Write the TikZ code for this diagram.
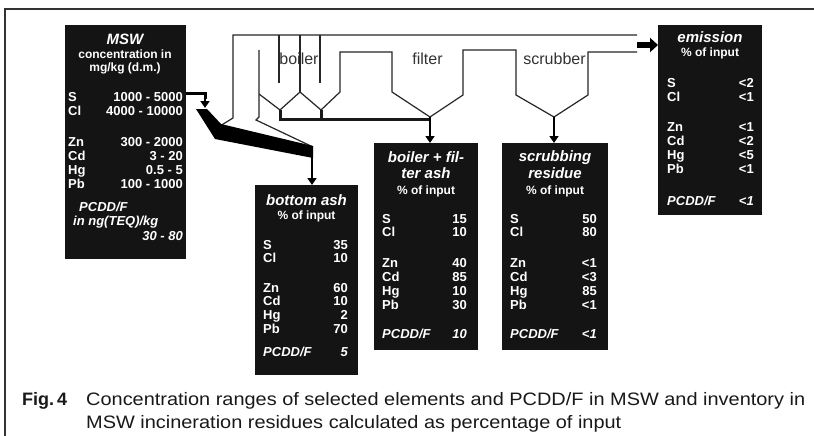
\documentclass[tikz,border=0pt]{standalone}
\usepackage{fontspec}
\setmainfont{Liberation Sans}
\usetikzlibrary{arrows.meta}
\newcommand\rowf{\fontsize{13}{14}\selectfont\bfseries}
\newcommand\ttlf{\fontsize{15}{17}\selectfont\bfseries\itshape}
\newcommand\subf{\fontsize{12}{14}\selectfont\bfseries}
\newcommand\plantf{\fontsize{16}{18}\selectfont}
\newcommand\capf{\fontsize{18}{23}\selectfont}
\newcommand\erow[6]{\node[lab] (#1l) at (#2,#4) {#5}; \node[val] (#1v) at (#3,#4) {#6};}
\newcommand\eirow[6]{\node[lab,ital] (#1l) at (#2,#4) {#5}; \node[val,ital] (#1v) at (#3,#4) {#6};}
\newlength\capwd
\begin{document}
\settowidth\capwd{\capf Concentration ranges of selected elements and PCDD/F in MSW and inventory in}
\begin{tikzpicture}[x=1pt,y=-1pt,
  box/.style={fill=black!92, draw=none, inner sep=0, anchor=north west},
  lab/.style={text=white, font=\rowf, inner sep=0, anchor=base west},
  val/.style={text=white, font=\rowf, inner sep=0, anchor=base east},
  ital/.style={font=\rowf\itshape},
  ttl/.style={text=white, font=\ttlf, inner sep=0, anchor=base},
  sub/.style={text=white, font=\subf, inner sep=0, anchor=base},
  plant/.style={draw=black!85, line width=1.2pt, line join=miter},
  duct/.style={draw=black!90, line width=3pt},
  arr/.style={draw=black, line width=2.5pt, -{Triangle[length=7pt,width=9pt]}},
  bigarr/.style={draw=black, line width=6pt, -{Triangle[length=8pt,width=14pt]}},
  plabel/.style={text=black!80, font=\plantf, inner sep=0, anchor=base},
  frame/.style={draw=black!80, line width=1.5pt},
  captxt/.style={text=black!90, inner sep=0, anchor=base west}]
\pgfmathsetmacro\capS{719/\capwd}
\fill[white] (0,0) rectangle (814,436);
\useasboundingbox (0,0) rectangle (814,436);
% frame
\draw[frame] (4,9) -- (814,9);
\draw[frame] (5,9) -- (5,436);

% boxes
\node[box, minimum width=121pt, minimum height=234pt] (msw) at (65,25) {};
\node[box, minimum width=104pt, minimum height=190pt] (emis) at (658,25) {};
\node[box, minimum width=103pt, minimum height=190pt] (bash) at (255,185) {};
\node[box, minimum width=104pt, minimum height=207pt] (bfash) at (374,143) {};
\node[box, minimum width=106pt, minimum height=207pt] (scrub) at (502,143) {};

% MSW text
\node[ttl] (mswT) at (125,45) {MSW};
\node[sub] (mswA) at (125,59) {concentration in};
\node[sub] (mswB) at (125,72) {mg/kg (d.m.)};
\erow{mS}{68}{183}{102}{S}{1000 - 5000}
\erow{mCl}{68}{183}{115}{Cl}{4000 - 10000}
\erow{mZn}{68}{183}{146}{Zn}{300 - 2000}
\erow{mCd}{68}{183}{160}{Cd}{3 - 20}
\erow{mHg}{68}{183}{174}{Hg}{0.5 - 5}
\erow{mPb}{68}{183}{188}{Pb}{100 - 1000}
\node[lab,ital] (mP1) at (79,211) {PCDD/F};
\node[lab,ital] (mP2) at (73,225) {in ng(TEQ)/kg};
\node[val,ital] (mP3) at (183,240) {30 - 80};

% emission
\node[ttl] (eT) at (710,43) {emission};
\node[sub] (eA) at (710,57) {\% of input};
\erow{eS}{667}{754}{88}{S}{<2}
\erow{eCl}{667}{754}{101}{Cl}{<1}
\erow{eZn}{667}{754}{131}{Zn}{<1}
\erow{eCd}{667}{754}{145}{Cd}{<2}
\erow{eHg}{667}{754}{159}{Hg}{<5}
\erow{ePb}{667}{754}{173}{Pb}{<1}
\eirow{eP}{667}{754}{205}{PCDD/F}{<1}

% bottom ash
\node[ttl] (bT) at (306.5,205) {bottom ash};
\node[sub] (bA) at (306.5,219) {\% of input};
\erow{bS}{263}{348}{249}{S}{35}
\erow{bCl}{263}{348}{262}{Cl}{10}
\erow{bZn}{263}{348}{292}{Zn}{60}
\erow{bCd}{263}{348}{305}{Cd}{10}
\erow{bHg}{263}{348}{319}{Hg}{2}
\erow{bPb}{263}{348}{333}{Pb}{70}
\eirow{bP}{263}{348}{356}{PCDD/F}{5}

% boiler + filter ash
\node[ttl] (fT) at (426,162) {boiler + fil-};
\node[ttl] (fT2) at (426,178) {ter ash};
\node[sub] (fA) at (426,194) {\% of input};
\erow{fS}{382}{467}{223}{S}{15}
\erow{fCl}{382}{467}{236}{Cl}{10}
\erow{fZn}{382}{467}{267}{Zn}{40}
\erow{fCd}{382}{467}{281}{Cd}{85}
\erow{fHg}{382}{467}{295}{Hg}{10}
\erow{fPb}{382}{467}{309}{Pb}{30}
\eirow{fP}{382}{467}{338}{PCDD/F}{10}

% scrubbing residue
\node[ttl] (sT) at (555,161) {scrubbing};
\node[ttl] (sT2) at (555,178) {residue};
\node[sub] (sA) at (555,194) {\% of input};
\erow{sS}{510}{597}{223}{S}{50}
\erow{sCl}{510}{597}{236}{Cl}{80}
\erow{sZn}{510}{597}{267}{Zn}{<1}
\erow{sCd}{510}{597}{281}{Cd}{<3}
\erow{sHg}{510}{597}{295}{Hg}{85}
\erow{sPb}{510}{597}{309}{Pb}{<1}
\eirow{sP}{510}{597}{338}{PCDD/F}{<1}

% plant labels
\node[plabel] (lboiler) at (299,65) {boiler};
\node[plabel] (lfilter) at (427.5,65) {filter};
\node[plabel] (lscrub) at (554.5,65) {scrubber};

% plant coordinates
\coordinate (gasout) at (637,45);
\coordinate (feedc) at (205,93);
\coordinate (feedtip) at (205,108);
\coordinate (grateend) at (312,152);
\coordinate (fapex) at (430,117);
\coordinate (sapex) at (554,117);

% plant outline
\draw[plant] (637,35) -- (233,35) -- (233,118) -- (220,126);
\draw[plant] (259,50) -- (259,117) -- (256,120) -- (313,147);
\draw[plant] (259,94) -- (280,110) -- (300,92) -- (321,110) -- (340,92) -- (340,52) -- (392,52) -- (392,92)
  -- (fapex) -- (463,95) -- (463,50) -- (516,50) -- (516,95) -- (sapex) -- (588,95) -- (588,52) -- (637,52);
\draw[plant] (279,35) -- (279,83);
\draw[plant] (300,35) -- (300,92);
\draw[plant] (320,35) -- (320,83);
\draw[duct] (280,110) -- (280,119) -- (430,119);
\draw[duct] (321,110) -- (321,119);
% grate
\fill[black] (196,109) -- (207,109) -- (221,124) -- (313,146) -- (313,158) -- (215,139) -- cycle;

% arrows
\draw[draw=black, line width=3pt] (msw.east |- feedc) -- (feedc) -- (205,99);
\draw[arr] (205,97) -- (feedtip);
\draw[arr] (grateend) -- (bash.north -| grateend);
\draw[arr] (fapex) -- (bfash.north -| fapex);
\draw[arr] (sapex) -- (scrub.north -| sapex);
\draw[bigarr] (gasout) -- (emis.west |- gasout);

% caption
\node[captxt, font=\capf\bfseries] (fig) at (22,405) {Fig.\,4};
\node[captxt, font=\capf] (cap1) at (86,405) {\scalebox{\capS}[1]{Concentration ranges of selected elements and PCDD/F in MSW and inventory in}};
\node[captxt, font=\capf] (cap2) at (86,428) {\scalebox{\capS}[1]{MSW incineration residues calculated as percentage of input}};
\end{tikzpicture}
\end{document}
